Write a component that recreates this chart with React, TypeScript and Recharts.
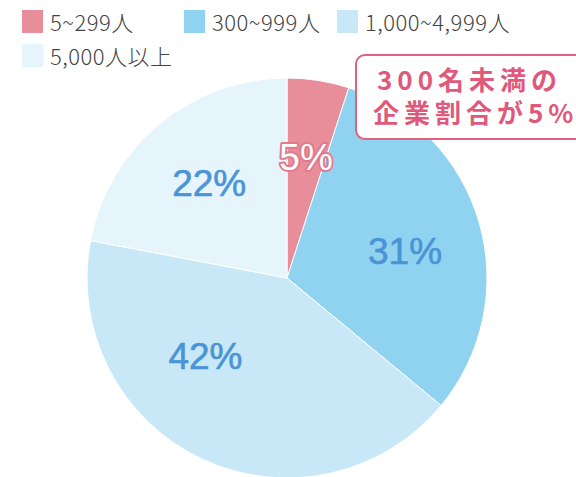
import React from "react";
import { PieChart, Pie, Cell } from "recharts";

const categories = ["5~299人", "300~999人", "1,000~4,999人", "5,000人以上"];
const shares = [5, 31, 42, 22];
const colors = ["#e88e9b", "#8fd3f0", "#c8e8f8", "#e6f4fc"];
const calloutLines = ["300名未満の", "企業割合が5%"];

const data = categories.map((name, i) => ({ name, value: shares[i] }));

const RAD = Math.PI / 180;

const renderLabel = (props: any) => {
  const { cx, cy, midAngle, index, value } = props;
  let r = 122;
  let ang = midAngle;
  if (index === 1) {
    ang = midAngle - 3.5;
    r = 121;
  }
  if (index === 2) {
    ang = midAngle - 21;
    r = 113;
  }
  const x = cx + r * Math.cos(-ang * RAD);
  const y = cy + r * Math.sin(-ang * RAD);
  const isFirst = index === 0;
  return (
    <text
      x={x}
      y={y}
      textAnchor="middle"
      dominantBaseline="central"
      fontFamily="'Liberation Sans', Arial, sans-serif"
      fontWeight={400}
      fontSize={37}
      fill={isFirst ? "#ffffff" : "#4a94d6"}
      stroke={isFirst ? "#e07a8c" : "#4a94d6"}
      strokeWidth={isFirst ? 4 : 0.6}
      paintOrder="stroke"
      strokeLinejoin="round"
    >
      {`${value}%`}
    </text>
  );
};

const legendPos = [
  { left: 22, top: 10 },
  { left: 184, top: 10 },
  { left: 337, top: 10 },
  { left: 22, top: 44 },
];

export default function App() {
  return (
    <div style={{ position: "absolute", left: 0, top: 0, width: 576, height: 477, overflow: "hidden", background: "#fff" }}>
      <div style={{ position: "absolute", left: 0, top: 0 }}>
        <PieChart width={576} height={477} margin={{ top: 0, right: 0, bottom: 0, left: 0 }}>
          <Pie
            data={data}
            dataKey="value"
            cx={287}
            cy={278}
            outerRadius={200}
            startAngle={90}
            endAngle={-270}
            stroke="#ffffff"
            strokeWidth={1}
            isAnimationActive={false}
            label={renderLabel}
            labelLine={false}
          >
            {data.map((d, i) => (
              <Cell key={d.name} fill={colors[i]} />
            ))}
          </Pie>
        </PieChart>
      </div>
      {categories.map((c, i) => (
        <div
          key={c}
          style={{
            position: "absolute",
            left: legendPos[i].left,
            top: legendPos[i].top,
            display: "flex",
            alignItems: "center",
            fontFamily: "'Noto Sans CJK JP', 'Noto Sans', sans-serif",
            fontWeight: 300,
            fontSize: 22,
            letterSpacing: 0.5,
            color: "#444",
            whiteSpace: "nowrap",
            lineHeight: "23px",
          }}
        >
          <span style={{ display: "inline-block", width: 21, height: 23, background: colors[i], marginRight: 7 }} />
          <span>{c}</span>
        </div>
      ))}
      <div
        style={{
          position: "absolute",
          left: 355,
          top: 54,
          width: 260,
          height: 86,
          boxSizing: "border-box",
          border: "2px solid #e0607e",
          borderRadius: 10,
          background: "#fff",
          textAlign: "left",
          fontFamily: "'Noto Sans CJK JP', sans-serif",
          fontWeight: 700,
          fontSize: 26,
          letterSpacing: 5,
          color: "#e0587a",
          lineHeight: "33px",
          paddingTop: 6,
          whiteSpace: "nowrap",
        }}
      >
        {calloutLines.map((l, i) => (
          <div key={l} style={{ paddingLeft: i === 0 ? 20 : 16 }}>{l}</div>
        ))}
      </div>
    </div>
  );
}
